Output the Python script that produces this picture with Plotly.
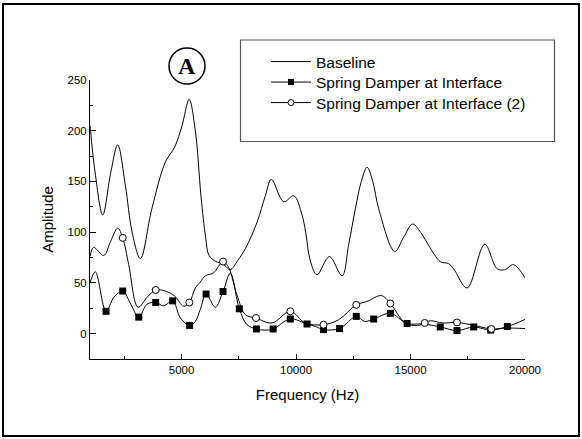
import plotly.graph_objects as go

# ---------------- data ----------------
baseline_freq = [1000, 1240, 1555, 1900, 2210, 2545, 2840, 3200, 3700, 4290, 4700, 5020,
                 5330, 5600, 5850, 6050, 6200, 6500, 6800, 7120, 7450, 7790, 8300, 8660,
                 8920, 9460, 9900, 10260, 10420, 10620, 10915, 11455, 12010, 12300, 12590,
                 12850, 13100, 13350, 13610, 14310, 14700, 15090, 15500, 15790, 16300,
                 16660, 16880, 17470, 18240, 18780, 19110, 19500, 20000]
baseline_amp = [205, 156, 117, 158, 186, 146, 100, 74, 123, 169, 184, 205,
                231, 200, 135, 95, 77, 71, 69, 63, 72, 84, 110, 136,
                152, 130, 136, 117, 100, 72, 58, 76, 57, 88, 123,
                150, 164, 150, 123, 81, 95, 108, 98, 87, 71,
                69, 64, 45, 88, 64, 63, 68, 55]

sdi_freq = [1000, 1235, 1700, 2050, 2430, 2780, 3130, 3490, 3870, 4220, 4610, 4950,
            5350, 5600, 5820, 6070, 6475, 6810, 7130, 7520, 7860, 8270, 8640, 9000,
            9750, 10480, 10850, 11200, 11900, 12630, 13000, 13390, 14120, 14850,
            15590, 16300, 17030, 17760, 18500, 19230, 20000]
sdi_amp = [50, 61, 22, 36, 42, 29, 16.3, 29, 30.7, 27.4, 32.3, 15.4,
           8.1, 12, 24, 39, 26, 41.5, 59.5, 24.5, 8.8, 4.6, 3.5, 4.6,
           14.4, 9.5, 7, 4, 5, 17, 12, 14.4, 20, 10,
           9.5, 6.6, 3, 6.6, 3.5, 7, 14]
sdi_marker_freq = [1700, 2430, 3130, 3870, 4610, 5350, 6070, 6810, 7520, 8270, 9000,
                   9750, 10480, 11200, 11900, 12630, 13390, 14120, 14850, 16300,
                   17030, 17760, 18500, 19230]

sdi2_freq = [1000, 1160, 1600, 1900, 2210, 2430, 2690, 3100, 3500, 3870, 4290, 4700,
             5090, 5340, 5600, 5820, 6040, 6400, 6810, 7060, 7420, 7790, 8250, 8950,
             9750, 10400, 11200, 11860, 12630, 13100, 13725, 14120, 14770, 15300,
             15620, 15870, 16400, 17030, 17800, 18530, 19200, 20000]
sdi2_amp = [76, 85, 77, 91, 104, 94.4, 68, 26, 36, 43, 42, 37,
            27, 30.7, 45, 51, 57, 60, 71, 65, 38, 18.6, 15.4, 10.5,
            22, 10.5, 8.8, 13.7, 28.4, 31.7, 37.5, 29.7, 10.5, 8,
            10.5, 12.7, 10.5, 11, 8, 4.6, 5.5, 5]
sdi2_marker_freq = [2430, 3870, 5340, 6810, 8250, 9750, 11200, 12630, 14120, 15620,
                    17030, 18530]

series_names = ["Baseline", "Spring Damper at Interface", "Spring Damper at Interface (2)"]
x_ticks = [5000, 10000, 15000, 20000]
y_ticks = [0, 50, 100, 150, 200, 250]

# ---------------- layout geometry ----------------
W, H = 582, 439
ML, MR, MT, MB = 90, 57, 80, 80
PW, PH = W - ML - MR, H - MT - MB


def px(x):
    return (x - ML) / PW


def py(y):
    return (H - MB - y) / PH


FONT = "Liberation Sans, Arial, sans-serif"

sdi_lookup = dict(zip(sdi_freq, sdi_amp))
sdi2_lookup = dict(zip(sdi2_freq, sdi2_amp))

fig = go.Figure()
line_style = dict(color="black", width=1, shape="spline", smoothing=1)

fig.add_trace(go.Scatter(x=baseline_freq, y=baseline_amp, mode="lines",
                         line=line_style, name=series_names[0], showlegend=True,
                         legend="legend"))
fig.add_trace(go.Scatter(x=sdi_freq, y=sdi_amp, mode="lines", line=line_style,
                         showlegend=False, hoverinfo="skip"))
fig.add_trace(go.Scatter(x=sdi2_freq, y=sdi2_amp, mode="lines", line=line_style,
                         showlegend=False, hoverinfo="skip"))
fig.add_trace(go.Scatter(x=sdi_marker_freq, y=[sdi_lookup[f] for f in sdi_marker_freq],
                         mode="markers", showlegend=False,
                         marker=dict(symbol="square", size=7, color="black")))
fig.add_trace(go.Scatter(x=sdi2_marker_freq, y=[sdi2_lookup[f] for f in sdi2_marker_freq],
                         mode="markers", showlegend=False,
                         marker=dict(symbol="circle", size=7, color="white",
                                     line=dict(color="black", width=1))))
# legend entries
fig.add_trace(go.Scatter(x=[None], y=[None], mode="lines+markers", name=series_names[1],
                         legend="legend2", line=dict(color="black", width=1),
                         marker=dict(symbol="square", size=6, color="black")))
fig.add_trace(go.Scatter(x=[None], y=[None], mode="lines+markers", name=series_names[2],
                         legend="legend3", line=dict(color="black", width=1),
                         marker=dict(symbol="circle", size=6, color="white",
                                     line=dict(color="black", width=1))))

shapes = [
    # outer frame
    dict(type="rect", xref="paper", yref="paper", x0=px(3), x1=px(579), y0=py(436), y1=py(4),
         line=dict(color="black", width=2), layer="above"),
    # legend frame
    dict(type="rect", xref="paper", yref="paper", x0=px(240.5), x1=px(554.5), y0=py(141.5),
         y1=py(40), line=dict(color="#555555", width=1.2)),
    # circle around A
    dict(type="circle", xref="paper", yref="paper", x0=px(169), x1=px(205), y0=py(84),
         y1=py(48), line=dict(color="black", width=1.5)),
]


def legend_at(yc):
    return dict(x=px(266), y=py(yc), xanchor="left", yanchor="middle",
                bgcolor="rgba(0,0,0,0)", borderwidth=0, itemwidth=40,
                font=dict(size=15.5, family=FONT, color="black"))


fig.update_layout(
    width=W, height=H,
    margin=dict(l=ML, r=MR, t=MT, b=MB, pad=0),
    paper_bgcolor="white", plot_bgcolor="white",
    font=dict(family=FONT, color="black"),
    showlegend=True,
    legend=legend_at(62),
    legend2=legend_at(82.5),
    legend3=legend_at(103),
    shapes=shapes,
    annotations=[dict(text="<b>A</b>", xref="paper", yref="paper", x=px(187), y=py(66),
                      showarrow=False, xanchor="center", yanchor="middle",
                      font=dict(family="Liberation Serif, Times New Roman, serif",
                                size=24, color="black"))],
    xaxis=dict(range=[1000, 20000], showgrid=False, zeroline=False, showline=True,
               linecolor="black", linewidth=1, ticks="inside", ticklen=5, tickcolor="black",
               tickvals=x_ticks, tickformat="d", tickfont=dict(size=11.5, color="black"),
               minor=dict(dtick=2500, tick0=0, ticks="inside", ticklen=3, tickcolor="black"),
               title=dict(text="Frequency (Hz)", font=dict(size=15, color="black"),
                          standoff=14)),
    yaxis=dict(range=[-25, 250], showgrid=False, zeroline=False, showline=True,
               linecolor="black", linewidth=1, ticks="inside", ticklen=6, tickcolor="black",
               tickvals=y_ticks, tickfont=dict(size=11.5, color="black"),
               minor=dict(dtick=25, tick0=0, ticks="inside", ticklen=3, tickcolor="black"),
               title=dict(text="Amplitude", font=dict(size=15, color="black"), standoff=10)),
)

fig.write_html("out.html", config={"displayModeBar": False},
               post_script="document.body.style.margin='0';")
